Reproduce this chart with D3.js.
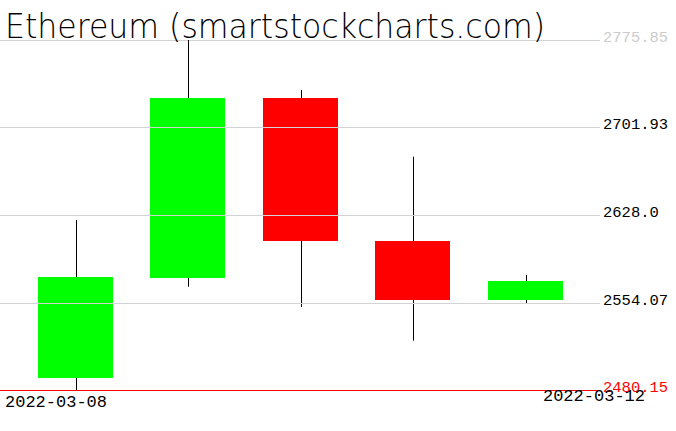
<!DOCTYPE html>
<html>
<head>
<meta charset="utf-8">
<script src="https://cdn.jsdelivr.net/npm/d3@7"></script>
<style>
  html, body { margin: 0; padding: 0; background: #fff; }
  svg { display: block; }
</style>
</head>
<body>
<svg id="chart" width="676" height="431"></svg>
<script>
const dates = ["2022-03-08", "2022-03-09", "2022-03-10", "2022-03-11", "2022-03-12"];
const opens  = [2490.5, 2575.0, 2726.9, 2606.3, 2556.4];
const highs  = [2623.8, 2775.85, 2733.6, 2677.3, 2577.3];
const lows   = [2480.15, 2567.4, 2550.3, 2521.8, 2553.4];
const closes = [2575.6, 2726.9, 2606.3, 2556.4, 2572.2];
const tickValues = [2480.15, 2554.07, 2628.0, 2701.93, 2775.85];
const tickLabels = ["2480.15", "2554.07", "2628.0", "2701.93", "2775.85"];
const dateLabels = ["2022-03-08", "2022-03-12"];
const title = "Ethereum (smartstockcharts.com)";

const data = dates.map((d, i) => ({date: d, o: opens[i], h: highs[i], l: lows[i], c: closes[i]}));

const svg = d3.select("#chart");
const gridRight = 600;

const x = d3.scalePoint().domain(dates).range([75.5, 525.5]);
const y = d3.scaleLinear().domain([tickValues[0], tickValues[tickValues.length - 1]]).range([390, 40]);
const bodyW = x.step() * 0.67;

// gridlines
svg.append("g").selectAll("line").data(tickValues).join("line")
  .attr("x1", 0).attr("x2", gridRight)
  .attr("y1", d => Math.round(y(d)) + 0.5).attr("y2", d => Math.round(y(d)) + 0.5)
  .attr("stroke", (d, i) => i === 0 ? "#ff0000" : "#d3d3d3")
  .attr("stroke-width", 1);

// tick labels
svg.append("g").selectAll("text").data(tickValues).join("text")
  .attr("x", 603)
  .attr("y", d => Math.round(y(d)) + 2)
  .attr("font-family", "Liberation Mono")
  .attr("font-size", 15.5)
  .attr("fill", (d, i) => i === 0 ? "#ff0000" : (i === tickValues.length - 1 ? "#cccccc" : "#000000"))
  .text((d, i) => tickLabels[i]);

// wicks
svg.append("g").selectAll("line").data(data).join("line")
  .attr("x1", d => Math.round(x(d.date)) + 0.5).attr("x2", d => Math.round(x(d.date)) + 0.5)
  .attr("y1", d => y(d.h)).attr("y2", d => y(d.l))
  .attr("stroke", "#000").attr("stroke-width", 1);

// bodies
svg.append("g").selectAll("rect").data(data).join("rect")
  .attr("x", d => Math.round(x(d.date) - bodyW / 2))
  .attr("width", Math.round(bodyW))
  .attr("y", d => Math.round(y(Math.max(d.o, d.c))))
  .attr("height", d => Math.round(Math.abs(y(d.o) - y(d.c))))
  .attr("fill", d => d.c >= d.o ? "#00ff00" : "#ff0000")
  .attr("shape-rendering", "crispEdges");

// gridlines crossing the bodies
svg.append("g").selectAll("line").data(tickValues.slice(1, -1)).join("line")
  .attr("x1", 0).attr("x2", gridRight)
  .attr("y1", d => Math.round(y(d)) + 0.5).attr("y2", d => Math.round(y(d)) + 0.5)
  .attr("stroke", "#d3d3d3").attr("stroke-width", 1);

// date labels
svg.append("text")
  .attr("x", 5).attr("y", 407)
  .attr("font-family", "Liberation Mono").attr("font-size", 17)
  .attr("fill", "#000")
  .text(dateLabels[0]);
svg.append("text")
  .attr("x", 645).attr("y", 401)
  .attr("text-anchor", "end")
  .attr("font-family", "Liberation Mono").attr("font-size", 17)
  .attr("fill", "#000")
  .text(dateLabels[1]);

// title
svg.append("text")
  .attr("x", 5).attr("y", 38)
  .attr("font-family", "DejaVu Sans")
  .attr("font-weight", 200)
  .attr("font-size", 34)
  .attr("textLength", 540)
  .attr("lengthAdjust", "spacingAndGlyphs")
  .attr("fill", "#000")
  .text(title);
</script>
</body>
</html>
